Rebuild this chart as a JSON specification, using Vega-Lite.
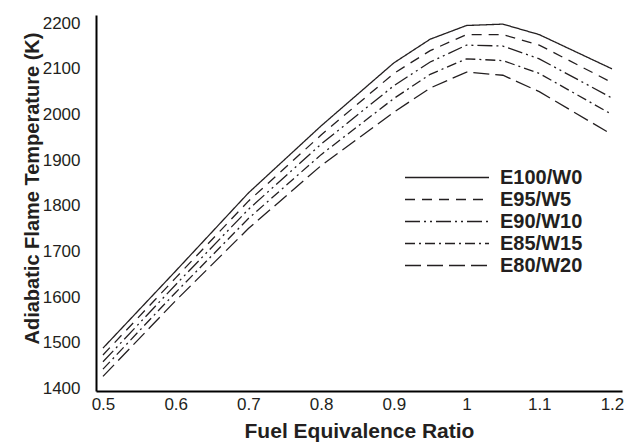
{
  "$schema": "https://vega.github.io/schema/vega-lite/v6.json",
  "width": 526,
  "height": 376,
  "autosize": {"type": "none"},
  "padding": {"left": 96, "top": 15, "right": 6, "bottom": 54},
  "config": {
    "view": {"stroke": null},
    "font": "Liberation Sans",
    "axis": {"grid": false, "ticks": false, "domainColor": "#000000", "domainWidth": 2, "labelColor": "#231f20", "labelFontSize": 17, "titleFontWeight": "bold", "titleColor": "#231f20"}
  },
  "data": {"values": [
    {"phi": 0.5, "T": 1488, "fuel": "E100/W0"}, {"phi": 0.6, "T": 1657, "fuel": "E100/W0"}, {"phi": 0.7, "T": 1828, "fuel": "E100/W0"}, {"phi": 0.8, "T": 1975, "fuel": "E100/W0"}, {"phi": 0.9, "T": 2113, "fuel": "E100/W0"}, {"phi": 0.95, "T": 2165, "fuel": "E100/W0"}, {"phi": 1.0, "T": 2195, "fuel": "E100/W0"}, {"phi": 1.05, "T": 2198, "fuel": "E100/W0"}, {"phi": 1.1, "T": 2175, "fuel": "E100/W0"}, {"phi": 1.2, "T": 2100, "fuel": "E100/W0"},
    {"phi": 0.5, "T": 1473, "fuel": "E95/W5"}, {"phi": 0.6, "T": 1642, "fuel": "E95/W5"}, {"phi": 0.7, "T": 1810, "fuel": "E95/W5"}, {"phi": 0.8, "T": 1955, "fuel": "E95/W5"}, {"phi": 0.9, "T": 2090, "fuel": "E95/W5"}, {"phi": 0.95, "T": 2140, "fuel": "E95/W5"}, {"phi": 1.0, "T": 2175, "fuel": "E95/W5"}, {"phi": 1.05, "T": 2175, "fuel": "E95/W5"}, {"phi": 1.1, "T": 2152, "fuel": "E95/W5"}, {"phi": 1.2, "T": 2070, "fuel": "E95/W5"},
    {"phi": 0.5, "T": 1458, "fuel": "E90/W10"}, {"phi": 0.6, "T": 1627, "fuel": "E90/W10"}, {"phi": 0.7, "T": 1792, "fuel": "E90/W10"}, {"phi": 0.8, "T": 1935, "fuel": "E90/W10"}, {"phi": 0.9, "T": 2063, "fuel": "E90/W10"}, {"phi": 0.95, "T": 2115, "fuel": "E90/W10"}, {"phi": 1.0, "T": 2152, "fuel": "E90/W10"}, {"phi": 1.05, "T": 2150, "fuel": "E90/W10"}, {"phi": 1.1, "T": 2122, "fuel": "E90/W10"}, {"phi": 1.2, "T": 2036, "fuel": "E90/W10"},
    {"phi": 0.5, "T": 1442, "fuel": "E85/W15"}, {"phi": 0.6, "T": 1610, "fuel": "E85/W15"}, {"phi": 0.7, "T": 1772, "fuel": "E85/W15"}, {"phi": 0.8, "T": 1912, "fuel": "E85/W15"}, {"phi": 0.9, "T": 2035, "fuel": "E85/W15"}, {"phi": 0.95, "T": 2088, "fuel": "E85/W15"}, {"phi": 1.0, "T": 2122, "fuel": "E85/W15"}, {"phi": 1.05, "T": 2118, "fuel": "E85/W15"}, {"phi": 1.1, "T": 2090, "fuel": "E85/W15"}, {"phi": 1.2, "T": 2000, "fuel": "E85/W15"},
    {"phi": 0.5, "T": 1426, "fuel": "E80/W20"}, {"phi": 0.6, "T": 1592, "fuel": "E80/W20"}, {"phi": 0.7, "T": 1750, "fuel": "E80/W20"}, {"phi": 0.8, "T": 1888, "fuel": "E80/W20"}, {"phi": 0.9, "T": 2005, "fuel": "E80/W20"}, {"phi": 0.95, "T": 2058, "fuel": "E80/W20"}, {"phi": 1.0, "T": 2093, "fuel": "E80/W20"}, {"phi": 1.05, "T": 2086, "fuel": "E80/W20"}, {"phi": 1.1, "T": 2050, "fuel": "E80/W20"}, {"phi": 1.2, "T": 1956, "fuel": "E80/W20"}
  ]},
  "mark": {"type": "line", "color": "#231f20", "strokeWidth": 1.3},
  "encoding": {
    "x": {"field": "phi", "type": "quantitative", "title": "Fuel Equivalence Ratio",
      "scale": {"domain": [0.4904, 1.2138], "nice": false, "zero": false},
      "axis": {"values": [0.5, 0.6, 0.7, 0.8, 0.9, 1.0, 1.1, 1.2], "format": "~g", "labelPadding": 5, "titlePadding": 8, "titleFontSize": 21}},
    "y": {"field": "T", "type": "quantitative", "title": "Adiabatic Flame Temperature (K)",
      "scale": {"domain": [1394, 2218], "nice": false, "zero": false},
      "axis": {"values": [1400, 1500, 1600, 1700, 1800, 1900, 2000, 2100, 2200], "format": "d", "labelPadding": 16, "titleFontSize": 20, "titleX": -54, "titleY": 173}},
    "strokeDash": {"field": "fuel", "type": "nominal", "title": null,
      "sort": ["E100/W0", "E95/W5", "E90/W10", "E85/W15", "E80/W20"],
      "scale": {"domain": ["E100/W0", "E95/W5", "E90/W10", "E85/W15", "E80/W20"],
        "range": [[1, 0], [10, 7], [15, 4, 2, 4, 2, 4], [10, 4, 2, 4], [16, 6]]},
      "legend": {"orient": "none", "legendX": 308, "legendY": 151, "symbolType": "M-1,0H7", "symbolSize": 441, "symbolStrokeWidth": 1.3, "symbolStrokeColor": "#231f20", "symbolFillColor": "transparent", "labelFontSize": 20, "labelFontWeight": "bold", "labelColor": "#231f20", "labelOffset": 73, "rowPadding": 0}},
    "detail": {"field": "fuel"}
  }
}
